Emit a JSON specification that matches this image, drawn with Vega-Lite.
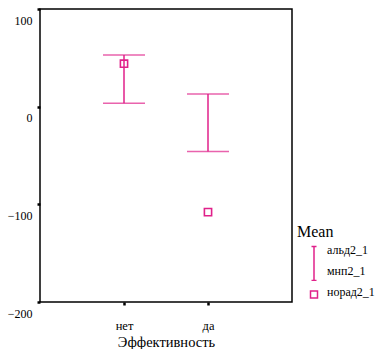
{
  "$schema": "https://vega.github.io/schema/vega-lite/v6.json",
  "width": 252,
  "height": 293,
  "autosize": {"type": "none"},
  "padding": {"left": 40, "top": 9, "right": 85, "bottom": 47},
  "background": "white",
  "config": {
    "view": {"stroke": "black", "strokeWidth": 1.5},
    "font": "Liberation Serif",
    "axis": {
      "domain": false,
      "grid": false,
      "tickColor": "black",
      "tickSize": 3,
      "tickWidth": 2.5,
      "labelFont": "Liberation Serif",
      "labelFontSize": 12,
      "labelColor": "black",
      "titleFont": "Liberation Serif",
      "titleFontWeight": "normal",
      "titleColor": "black"
    }
  },
  "data": {
    "values": [
      {"group": "нет", "альд2_1": 53, "мнп2_1": 3.5, "норад2_1": 44},
      {"group": "да", "альд2_1": 13, "мнп2_1": -46, "норад2_1": -108}
    ]
  },
  "encoding": {
    "x": {
      "field": "group",
      "type": "nominal",
      "sort": ["нет", "да"],
      "scale": {"type": "point", "padding": 1},
      "axis": {
        "title": "Эффективность",
        "labelAngle": 0,
        "labelPadding": 14,
        "labelFontSize": 12.5,
        "titleFontSize": 14.5,
        "titlePadding": 4
      }
    }
  },
  "layer": [
    {
      "mark": {"type": "rule", "color": "#e0218a", "strokeWidth": 1.5},
      "encoding": {
        "y": {
          "field": "мнп2_1",
          "type": "quantitative",
          "scale": {"domain": [-200, 100], "nice": false, "zero": false},
          "axis": {
            "title": null,
            "values": [-200, -100, 0, 100],
            "labelOffset": 11,
            "labelPadding": 5
          }
        },
        "y2": {"field": "альд2_1"}
      }
    },
    {
      "mark": {"type": "tick", "color": "#e0218a", "size": 42, "thickness": 1.5},
      "encoding": {"y": {"field": "альд2_1", "type": "quantitative"}}
    },
    {
      "mark": {"type": "tick", "color": "#e0218a", "size": 42, "thickness": 1.5},
      "encoding": {"y": {"field": "мнп2_1", "type": "quantitative"}}
    },
    {
      "mark": {"type": "point", "shape": "square", "filled": false, "color": "#e0218a", "size": 52, "strokeWidth": 1.6, "opacity": 1},
      "encoding": {"y": {"field": "норад2_1", "type": "quantitative"}}
    },
    {
      "transform": [{"fold": ["альд2_1", "мнп2_1", "норад2_1"], "as": ["series", "value"]}],
      "mark": {"type": "point", "filled": false, "color": "#e0218a", "opacity": 0},
      "encoding": {
        "y": {"field": "value", "type": "quantitative"},
        "shape": {
          "field": "series",
          "type": "nominal",
          "scale": {
            "domain": ["альд2_1", "мнп2_1", "норад2_1"],
            "range": [
              "M-0.25,-0.3H0.25M0,-0.3V1.5",
              "M0,-1.5V1M-0.25,1H0.25",
              "M-0.35,-0.05H0.35V0.65H-0.35Z"
            ]
          },
          "legend": {
            "title": "Mean",
            "orient": "none",
            "legendX": 257,
            "legendY": 215,
            "titleFont": "Liberation Serif",
            "titleFontSize": 16,
            "titleFontWeight": "normal",
            "titleColor": "black",
            "titlePadding": -1,
            "labelFont": "Liberation Serif",
            "labelFontSize": 12,
            "labelColor": "black",
            "labelOffset": 2,
            "symbolSize": 400,
            "symbolOffset": 6,
            "symbolOpacity": 1,
            "symbolStrokeColor": "#e0218a",
            "symbolStrokeWidth": 1.5,
            "symbolFillColor": "transparent",
            "clipHeight": 21,
            "rowPadding": 0,
            "padding": 0
          }
        }
      }
    }
  ]
}
